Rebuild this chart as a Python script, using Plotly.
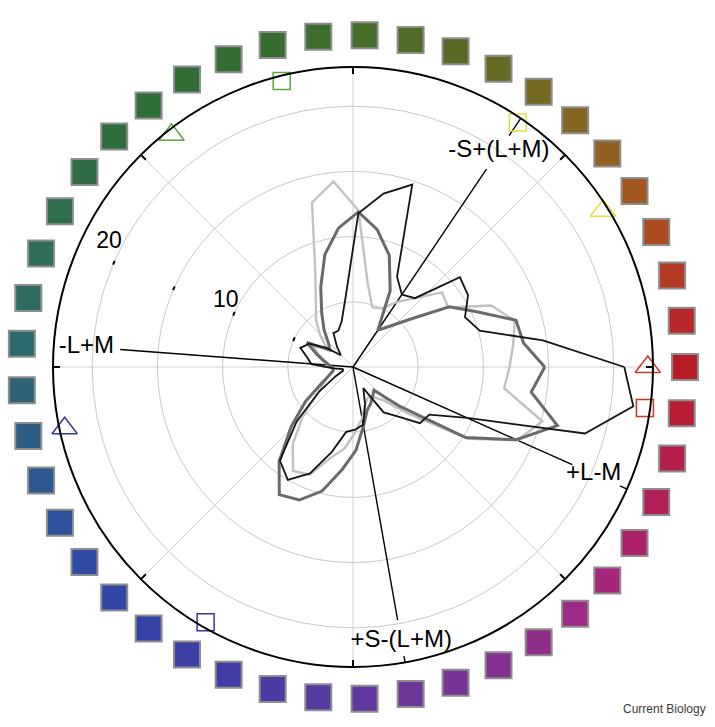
import plotly.graph_objects as go

# ---------------- data ----------------
angles = [0, 8, 16, 24, 32, 40, 48, 56, 64, 72, 80, 88, 96, 104, 112, 120, 128, 136,
          144, 152, 160, 168, 176, 184, 192, 200, 208, 216, 224, 232, 240, 248, 256,
          264, 272, 280, 288, 296, 304, 312, 320, 328, 336, 344, 352]

black_r = [20.8, 14.7, 10.1, 9.4, 10.4, 10.7, 7.1, 6.7, 7.7, 14.7, 13.5, 11.8, 5.4, 3.6,
           3.0, 3.0, 2.0, 1.3, 2.5, 3.8, 4.3, 3.6, 3.2, 1.5, 0.8, 0.8, 1.5, 3.2, 6.0, 9.1,
           10.0, 8.8, 6.7, 5.0, 4.8, 4.5, 3.0, 1.8, 4.2, 5.1, 6.7, 6.9, 9.6, 18.5, 21.7]

darkgray_r = [14.7, 13.2, 13.0, 10.4, 8.7, 5.7, 4.2, 3.4, 6.5, 9.0, 10.7, 11.9, 10.7, 8.9,
              6.6, 4.8, 3.6, 2.6, 2.2, 4.0, 3.0, 2.3, 1.8, 1.5, 1.6, 2.0, 2.8, 4.5, 6.6, 9.2,
              11.3, 11.0, 9.8, 7.9, 6.4, 4.6, 3.5, 3.1, 2.7, 2.4, 4.7, 10.2, 13.7, 16.3, 13.8]

lightgray_r = [12.0, 12.4, 12.9, 11.6, 8.6, 8.9, 7.1, 6.0, 5.0, 4.8, 6.5, 12.0, 14.3, 13.0,
               7.7, 5.7, 4.6, 3.5, 2.5, 3.5, 2.8, 2.2, 2.0, 1.5, 1.5, 2.0, 2.5, 3.3, 5.3, 7.5,
               9.2, 8.9, 7.2, 6.3, 5.0, 4.0, 3.0, 2.6, 2.8, 3.4, 5.6, 10.4, 13.8, 15.1, 11.7]

hue_colors = ["#b81c26", "#b8282a", "#b43a26", "#ac4a22", "#a25820", "#926020", "#826622",
              "#746a24", "#666a24", "#5a6a26", "#4e6c28", "#446e2a", "#3c6e2e", "#366e30",
              "#326e32", "#306e36", "#2e6e38", "#2e6e3c", "#2e6e42", "#2e6e4a", "#2e6e56",
              "#2e6c62", "#2e6a6c", "#2e6476", "#2d5e84", "#2d5890", "#2e529c", "#2f4ca2",
              "#3246a6", "#3642a8", "#3a40a6", "#423ca6", "#4c3aa2", "#563aa0", "#60389e",
              "#6c369a", "#783496", "#843290", "#902e8c", "#9c2a86", "#a6267c", "#ae226c",
              "#b2205c", "#b4204a", "#b61e38"]
hue_ring_r = 25.45

# outlined reference markers on the rim
tri_theta = [0, 32, 128, 192]
tri_colors = ["#c8372d", "#e0e03c", "#5aa83a", "#35389a"]
sq_theta = [352, 56, 104, 240]
sq_colors = ["#c8372d", "#e0e03c", "#5aa83a", "#35389a"]
marker_r = 22.6

# cone-opponent axes
axis_labels = ["-S+(L+M)", "+L-M", "-L+M", "+S-(L+M)"]
axis_angles = [56, 336, 175.7, 280]
axis_gap_start = [18.3, 18.4, 17.9, 19.7]
axis_gap_end = [21.4, 22.4, 23.0, 22.5]
axis_label_r = [20.0, 20.2, 20.5, 21.3]
r_max = 23.0

radial_tick_labels = ["10", "20"]
radial_tick_label_r = [11.0, 21.0]
radial_tick_label_theta = [152.5, 153.0]

# ---------------- figure ----------------
W, H = 715, 727
cx, cy, R = 353, 367, 300          # main circle centre / radius (px)
px_per_unit = R / r_max
R2 = 350                            # outer (hue ring) subplot radius (px)
r2_max = R2 / px_per_unit

fig = go.Figure()

# hue ring on an outer, invisible polar subplot
fig.add_trace(go.Scatterpolar(
    r=[hue_ring_r] * len(angles), theta=angles, mode="markers", subplot="polar2",
    marker=dict(symbol="square", size=26, color=hue_colors,
                line=dict(color="#8e8e8e", width=2)),
    cliponaxis=False, hoverinfo="skip", showlegend=False))

# axis lines with gaps for labels
for lab, ang, g0, g1 in zip(axis_labels, axis_angles, axis_gap_start, axis_gap_end):
    if g1 < r_max:
        rr, tt = [0, g0, None, g1, r_max], [ang, ang, None, ang, ang]
    else:
        rr, tt = [0, g0], [ang, ang]
    fig.add_trace(go.Scatterpolar(r=rr, theta=tt, mode="lines",
                                  line=dict(color="black", width=1.4),
                                  hoverinfo="skip", showlegend=False, connectgaps=False))


def closed(v):
    return list(v) + [v[0]]


fig.add_trace(go.Scatterpolar(r=closed(lightgray_r), theta=closed(angles), mode="lines",
                              line=dict(color="#c2c2c2", width=2.4), showlegend=False))
fig.add_trace(go.Scatterpolar(r=closed(darkgray_r), theta=closed(angles), mode="lines",
                              line=dict(color="#6a6a6a", width=3), showlegend=False))
fig.add_trace(go.Scatterpolar(r=closed(black_r), theta=closed(angles), mode="lines",
                              line=dict(color="#141414", width=1.8), showlegend=False))

# rim markers
fig.add_trace(go.Scatterpolar(
    r=[marker_r] * len(tri_theta), theta=tri_theta, mode="markers",
    marker=dict(symbol="triangle-up-open", size=22, color=tri_colors, line=dict(width=1.5)),
    cliponaxis=False, showlegend=False))
fig.add_trace(go.Scatterpolar(
    r=[marker_r] * len(sq_theta), theta=sq_theta, mode="markers",
    marker=dict(symbol="square-open", size=17, color=sq_colors, line=dict(width=1.5)),
    cliponaxis=False, showlegend=False))

# axis labels
fig.add_trace(go.Scatterpolar(
    r=axis_label_r, theta=axis_angles, mode="text", text=axis_labels,
    textfont=dict(family="Liberation Sans, Arial, sans-serif", size=24, color="black"),
    textposition="middle center", cliponaxis=False, showlegend=False, hoverinfo="skip"))

# radial tick labels
fig.add_trace(go.Scatterpolar(
    r=radial_tick_label_r, theta=radial_tick_label_theta, mode="text", text=radial_tick_labels,
    textfont=dict(family="Liberation Sans, Arial, sans-serif", size=23, color="black"),
    textposition="middle center", cliponaxis=False, showlegend=False, hoverinfo="skip"))

hidden_axis = dict(visible=False, showgrid=False, showline=False, showticklabels=False,
                   ticks="")
fig.update_layout(
    width=W, height=H, autosize=False,
    margin=dict(l=0, r=0, t=0, b=0, pad=0),
    paper_bgcolor="white",
    showlegend=False,
    polar=dict(
        domain=dict(x=[(cx - R) / W, (cx + R) / W], y=[(H - cy - R) / H, (H - cy + R) / H]),
        bgcolor="white",
        angularaxis=dict(rotation=0, direction="counterclockwise", tick0=0, dtick=45,
                         showticklabels=False, ticks="inside", ticklen=6, tickwidth=1.5,
                         tickcolor="black", showline=True, linecolor="black", linewidth=2,
                         showgrid=True, gridcolor="#cfcfcf", gridwidth=1),
        radialaxis=dict(range=[0, r_max], tickvals=[5, 10, 15, 20], showticklabels=False,
                        ticks="outside", ticklen=4, tickwidth=1.5, tickcolor="black",
                        showline=False, angle=157, showgrid=True, gridcolor="#c8c8c8",
                        gridwidth=1),
    ),
    polar2=dict(
        domain=dict(x=[(cx - R2) / W, (cx + R2) / W], y=[(H - cy - R2) / H, (H - cy + R2) / H]),
        bgcolor="rgba(0,0,0,0)",
        angularaxis=dict(rotation=0, direction="counterclockwise", **hidden_axis),
        radialaxis=dict(range=[0, r2_max], **hidden_axis),
    ),
    annotations=[dict(text="Current Biology", x=0.99, y=0.012, xref="paper", yref="paper",
                      xanchor="right", yanchor="bottom", showarrow=False,
                      font=dict(family="Liberation Sans Narrow, Liberation Sans, Arial", size=12,
                                color="#3a3a3a"))],
)

fig.write_html("out.html", config={"displayModeBar": False},
               post_script="document.body.style.margin='0';document.body.style.overflow='hidden';")
